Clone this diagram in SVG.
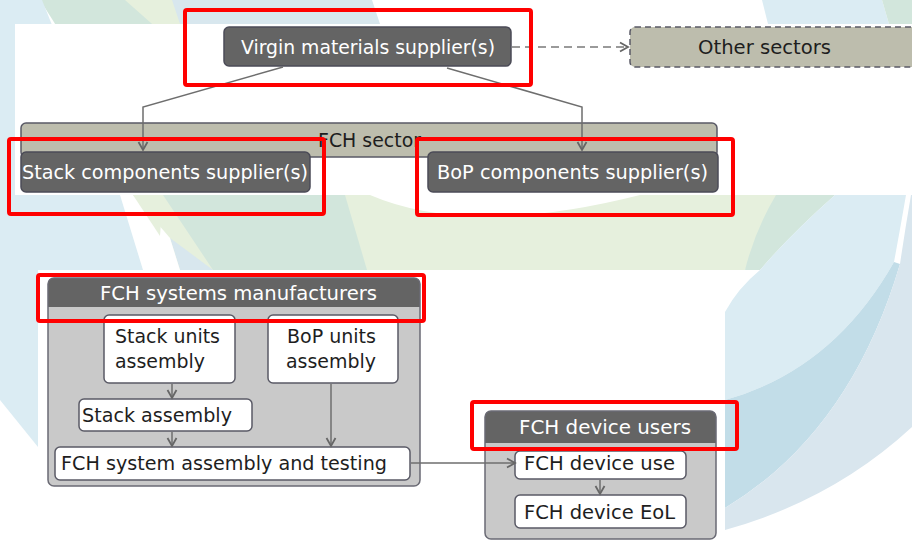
<svg xmlns="http://www.w3.org/2000/svg" width="912" height="542" viewBox="0 0 912 542">
  <defs>
    <style>
      .lblue { fill: #dbecf3; }
      .green { fill: #d2e6dc; }
      .pale { fill: #e6f0dd; }
      .bgray { fill: #d8e7ee; }
      .mblue { fill: #c2dde8; }
      .gblue { fill: #d9e6ee; }
      .panel { fill: #ffffff; }
      .dark { fill: #646464; stroke: #4b4b57; stroke-width: 1.5; }
      .khaki { fill: #bdbdad; stroke: #5a5a66; stroke-width: 1.5; }
      .step { fill: #ffffff; stroke: #5a5a66; stroke-width: 1.5; }
      .body { fill: #c9c9c9; }
      .frame { fill: none; stroke: #6a6a74; stroke-width: 1.5; }
      .hi { fill: none; stroke: #ff0000; stroke-width: 4; }
      text { font-family: "DejaVu Sans", "Liberation Sans", sans-serif; font-size: 19.5px; }
      .wt { fill: #ffffff; }
      .bt { fill: #1e1e1e; }
      .conn { fill: none; stroke: #6e6e6e; stroke-width: 1.5; }
      .dash { stroke-dasharray: 8 5; stroke: #7a7a7a; }
    </style>
    <marker id="arrow" markerWidth="12" markerHeight="12" refX="10" refY="6" orient="auto" markerUnits="userSpaceOnUse">
      <path d="M2,1.5 L10,6 L2,10.5" fill="none" stroke="#666666" stroke-width="1.8"/>
    </marker>
  </defs>

  <!-- decorative background swooshes -->
  <g id="background">
    <rect x="0" y="0" width="912" height="542" fill="#ffffff"/>
    <path class="pale" d="M120,0 L180,0 L420,100 L790,195 L745,270 L150,270 L130,195 Z"/>
    <path class="green" d="M40,0 L125,0 L345,195 L367,270 L213,270 L163,195 Z"/>
    <path class="bgray" d="M172,0 L372,0 L380,24 L180,24 Z"/>
    <path class="bgray" d="M180,270 L213,270 L170,238 Z"/>
    <path class="panel" d="M120,195 L133,195 L170,238 L180,270 L143,270 Z"/>
    <path class="pale" d="M133,195 L163,195 L160,236 Z"/>
    <path class="lblue" d="M0,0 L42,0 L120,195 L143,270 L38,270 L38,447 L0,400 Z"/>
    <path class="panel" d="M370,195 Q470,238 640,195 Z"/>
    <!-- right side -->
    <path class="lblue" d="M762,0 L882,0 L889,24 L768,24 Z"/>
    <path class="green" d="M882,0 L912,0 L912,24 L889,24 Z"/>
    <path class="green" d="M776,195 L835,195 Q790,235 760,270 L745,270 Q755,230 776,195 Z"/>
    <path class="lblue" d="M835,195 L906,195 Q900,230 894,262 Q833,370 725,400 L725,312 Q738,288 760,270 Q790,235 835,195 Z"/>
    <path class="mblue" d="M725,400 Q833,370 894,262 L900,264 Q850,433 725,508 Z"/>
    <path class="gblue" d="M911,195 L912,195 L912,427 Q833,500 725,530 L725,508 Q850,433 900,264 Q905,230 911,195 Z"/>
    <!-- white panels carrying the diagram -->
    <rect class="panel" x="15" y="24" width="897" height="171"/>
    <rect class="panel" x="38" y="270" width="687" height="272"/>
  </g>

  <!-- top row -->
  <g id="virgin-materials">
    <rect class="dark" x="224" y="27" width="287" height="39" rx="5"/>
    <text class="wt" x="241" y="54" textLength="254" lengthAdjust="spacingAndGlyphs">Virgin materials supplier(s)</text>
  </g>
  <g id="other-sectors">
    <rect class="khaki" x="630" y="27" width="300" height="40" rx="5" stroke-dasharray="6 4"/>
    <text class="bt" x="698" y="54" textLength="133" lengthAdjust="spacingAndGlyphs">Other sectors</text>
  </g>

  <!-- FCH sector -->
  <g id="fch-sector">
    <rect class="khaki" x="21" y="123" width="696" height="34" rx="5"/>
    <text class="bt" x="318" y="147" textLength="103" lengthAdjust="spacingAndGlyphs">FCH sector</text>
  </g>
  <g id="stack-components">
    <rect class="dark" x="21" y="152" width="289" height="40" rx="5"/>
    <text class="wt" x="22" y="179" textLength="286" lengthAdjust="spacingAndGlyphs">Stack components supplier(s)</text>
  </g>
  <g id="bop-components">
    <rect class="dark" x="428" y="152" width="290" height="40" rx="5"/>
    <text class="wt" x="437" y="179" textLength="271" lengthAdjust="spacingAndGlyphs">BoP components supplier(s)</text>
  </g>

  <!-- FCH systems manufacturers -->
  <g id="fch-systems-manufacturers">
    <rect class="body" x="48" y="278" width="372" height="208" rx="6"/>
    <path d="M48,307 V284 Q48,278 54,278 H414 Q420,278 420,284 V307 Z" fill="#646464"/>
    <rect class="frame" x="48" y="278" width="372" height="208" rx="6"/>
    <text class="wt" x="100" y="300" textLength="277" lengthAdjust="spacingAndGlyphs">FCH systems manufacturers</text>
  </g>
  <g id="stack-units-assembly">
    <rect class="step" x="104" y="315" width="131" height="68" rx="5"/>
    <text class="bt" x="115" y="343" textLength="105" lengthAdjust="spacingAndGlyphs">Stack units</text>
    <text class="bt" x="115" y="368" textLength="90" lengthAdjust="spacingAndGlyphs">assembly</text>
  </g>
  <g id="bop-units-assembly">
    <rect class="step" x="268" y="315" width="130" height="68" rx="5"/>
    <text class="bt" x="287" y="343" textLength="89" lengthAdjust="spacingAndGlyphs">BoP units</text>
    <text class="bt" x="286" y="368" textLength="90" lengthAdjust="spacingAndGlyphs">assembly</text>
  </g>
  <g id="stack-assembly">
    <rect class="step" x="79" y="399" width="173" height="32" rx="5"/>
    <text class="bt" x="82" y="422" textLength="150" lengthAdjust="spacingAndGlyphs">Stack assembly</text>
  </g>
  <g id="fch-system-assembly">
    <rect class="step" x="55" y="447" width="355" height="33" rx="5"/>
    <text class="bt" x="61" y="470" textLength="326" lengthAdjust="spacingAndGlyphs">FCH system assembly and testing</text>
  </g>

  <!-- FCH device users -->
  <g id="fch-device-users">
    <rect class="body" x="485" y="411" width="231" height="128" rx="6"/>
    <path d="M485,443 V417 Q485,411 491,411 H710 Q716,411 716,417 V443 Z" fill="#646464"/>
    <rect class="frame" x="485" y="411" width="231" height="128" rx="6"/>
    <text class="wt" x="519" y="434" textLength="172" lengthAdjust="spacingAndGlyphs">FCH device users</text>
  </g>
  <g id="fch-device-use">
    <rect class="step" x="515" y="451" width="171" height="28" rx="5"/>
    <text class="bt" x="524" y="470" textLength="151" lengthAdjust="spacingAndGlyphs">FCH device use</text>
  </g>
  <g id="fch-device-eol">
    <rect class="step" x="515" y="495" width="171" height="33" rx="5"/>
    <text class="bt" x="524" y="519" textLength="151" lengthAdjust="spacingAndGlyphs">FCH device EoL</text>
  </g>

  <!-- connectors, drawn over the container bands -->
  <g id="connectors">
    <path class="conn dash" d="M512,47 L628,47" marker-end="url(#arrow)"/>
    <path class="conn" d="M283,67 L143,107 L143,150" marker-end="url(#arrow)"/>
    <path class="conn" d="M447,68 L582,107 L582,150" marker-end="url(#arrow)"/>
    <path class="conn" d="M172,384 L172,398" marker-end="url(#arrow)"/>
    <path class="conn" d="M172,432 L172,446" marker-end="url(#arrow)"/>
    <path class="conn" d="M331,384 L331,446" marker-end="url(#arrow)"/>
    <path class="conn" d="M411,463 L515,463" marker-end="url(#arrow)"/>
    <path class="conn" d="M600,480 L600,494" marker-end="url(#arrow)"/>
  </g>

  <!-- highlight frames -->
  <g id="highlights">
    <rect class="hi" x="185" y="10" width="346" height="75" rx="2"/>
    <rect class="hi" x="9" y="139" width="315" height="75" rx="2"/>
    <rect class="hi" x="417" y="139" width="316" height="76" rx="2"/>
    <rect class="hi" x="38" y="275" width="386" height="46" rx="2"/>
    <rect class="hi" x="472" y="402" width="265" height="47" rx="2"/>
  </g>
</svg>
